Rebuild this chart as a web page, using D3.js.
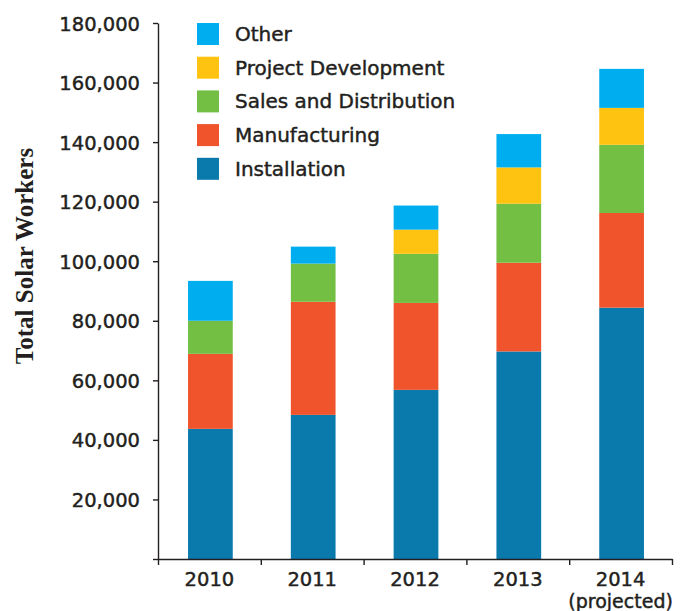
<!DOCTYPE html>
<html lang="en">
<head>
<meta charset="utf-8" />
<title>Total Solar Workers</title>
<script src="https://d3js.org/d3.v7.min.js"></script>
<style>
    body { margin: 0; background: #fff; }
    svg { display: block; }
    .tick text, .lbl { fill: #231f20; stroke: #231f20; stroke-width: 0.45px; }
</style>
</head>
<body>
<script>
    // data
    const years = ["2010", "2011", "2012", "2013", "2014"];
    const series = ["Installation", "Manufacturing", "Sales and Distribution", "Project Development", "Other"];
    const installation = [43700, 48400, 56800, 69700, 84400];
    const manufacturing = [25200, 38000, 29200, 29800, 31800];
    const salesDistribution = [11100, 12800, 16500, 19800, 22900];
    const projectDevelopment = [0, 0, 8100, 12200, 12400];
    const other = [13400, 5700, 8100, 11200, 13100];
    const yTicks = [0, 20000, 40000, 60000, 80000, 100000, 120000, 140000, 160000, 180000];
    const colors = ["#0a79ac", "#f0542d", "#72bf44", "#fec311", "#00aeef"];

    const width = 691, height = 611;
    const plotLeft = 158, plotRight = 672, plotTop = 23, plotBottom = 559;
    const ink = "#231f20";

    const rows = years.map((y, i) => ({
        year: y,
        "Installation": installation[i],
        "Manufacturing": manufacturing[i],
        "Sales and Distribution": salesDistribution[i],
        "Project Development": projectDevelopment[i],
        "Other": other[i]
    }));
    const stacked = d3.stack().keys(series)(rows);

    const svg = d3.select("body").append("svg")
        .attr("width", width)
        .attr("height", height);

    const x = d3.scaleBand().domain(years).range([plotLeft, plotRight]).paddingInner(0).paddingOuter(0);
    const y = d3.scaleLinear().domain([0, 180000]).range([plotBottom, plotTop]);
    const barW = x.bandwidth() * 0.435;

    // bars
    svg.append("g").selectAll("g")
        .data(stacked)
        .join("g")
        .attr("fill", (d, i) => colors[i])
        .selectAll("rect")
        .data(d => d)
        .join("rect")
        .attr("x", d => x(d.data.year) + (x.bandwidth() - barW) / 2 + 1)
        .attr("width", barW)
        .attr("y", d => y(d[1]))
        .attr("height", d => y(d[0]) - y(d[1]));

    // y axis
    const yAxis = svg.append("g")
        .attr("transform", `translate(${plotLeft},0)`)
        .call(d3.axisLeft(y).tickValues(yTicks).tickSize(5).tickSizeOuter(0).tickPadding(13)
            .tickFormat(d => d === 0 ? "" : d3.format(",")(d)));
    yAxis.selectAll("text")
        .attr("font-family", "DejaVu Sans")
        .attr("font-size", 19.5)
        .attr("dy", "0.36em");

    // x axis boundary ticks
    const xEdge = d3.scaleLinear().domain([0, years.length]).range([plotLeft, plotRight]);
    svg.append("g")
        .attr("transform", `translate(0,${plotBottom})`)
        .call(d3.axisBottom(xEdge).ticks(years.length).tickSize(6).tickSizeOuter(0).tickFormat(""));

    // x labels
    const xAxis = svg.append("g")
        .attr("transform", `translate(0,${plotBottom})`)
        .call(d3.axisBottom(x).tickSize(0).tickPadding(0));
    xAxis.select(".domain").remove();
    xAxis.selectAll("text")
        .attr("font-family", "DejaVu Sans")
        .attr("font-size", 19.5)
        .attr("y", 26.5)
        .attr("dy", 0);
    xAxis.selectAll(".tick").filter(d => d === "2014")
        .append("text")
        .attr("font-family", "DejaVu Sans")
        .attr("font-size", 19)
        .attr("text-anchor", "middle")
        .attr("y", 48.5)
        .text("(projected)");

    svg.selectAll(".domain, .tick line")
        .attr("stroke", ink)
        .attr("stroke-width", 1.4);

    // y title
    svg.append("text")
        .attr("transform", "translate(33,256) rotate(-90)")
        .attr("text-anchor", "middle")
        .attr("font-family", "Liberation Serif")
        .attr("font-weight", "bold")
        .attr("font-size", 25)
        .attr("fill", ink)
        .text("Total Solar Workers");

    // legend
    const legendOrder = series.slice().reverse();
    const legend = svg.append("g").attr("transform", "translate(197,23)");
    const item = legend.selectAll("g")
        .data(legendOrder)
        .join("g")
        .attr("transform", (d, i) => `translate(0,${i * 33.7})`);
    item.append("rect")
        .attr("width", 22)
        .attr("height", 22)
        .attr("fill", d => colors[series.indexOf(d)]);
    item.append("text")
        .attr("class", "lbl")
        .attr("x", 38)
        .attr("y", 18)
        .attr("font-family", "DejaVu Sans")
        .attr("font-size", 20)
        .text(d => d);
</script>
</body>
</html>
